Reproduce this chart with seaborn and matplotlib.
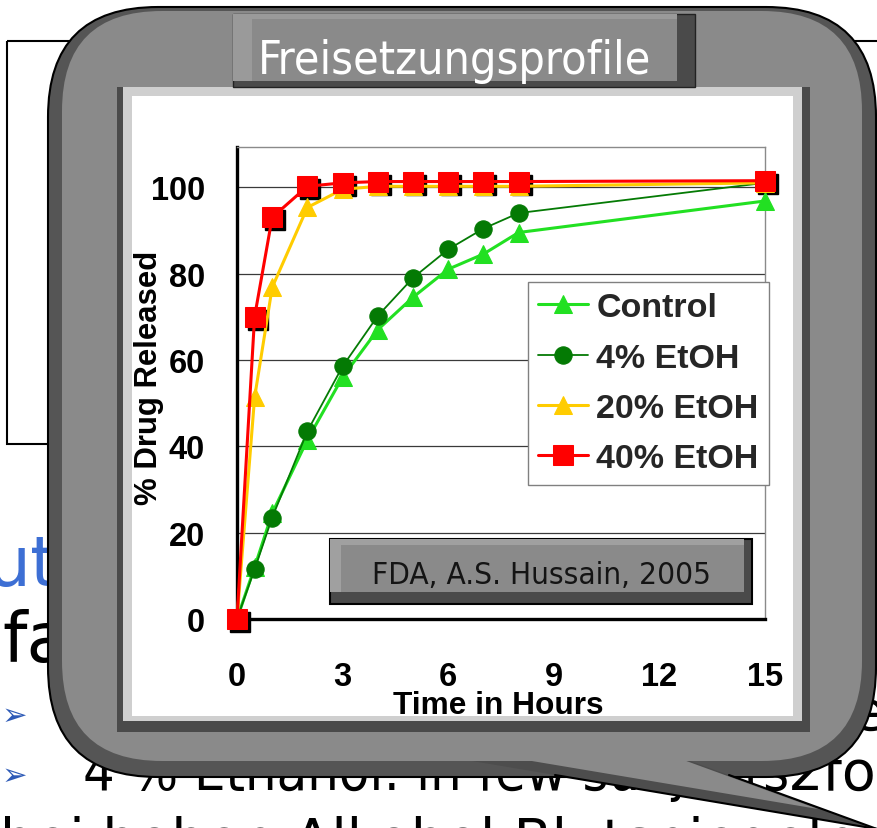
import matplotlib
matplotlib.use("Agg")
import matplotlib.pyplot as plt
import seaborn as sns
from matplotlib.patches import FancyBboxPatch, Rectangle, Polygon
from matplotlib.lines import Line2D
from matplotlib.transforms import ScaledTranslation

# ---------------- data ----------------
time_h = [0, 0.5, 1, 2, 3, 4, 5, 6, 7, 8, 15]
control = [0, 12, 24.5, 41.5, 56, 67, 74.5, 81, 84.5, 89.5, 96.8]
etoh4 = [0, 11.5, 23.5, 43.5, 58.5, 70.2, 79, 85.6, 90.4, 94, 101]
etoh20 = [0, 51.3, 76.8, 95.3, 99.5, 100.2, 100.2, 100.2, 100.2, 100.2, 101]
etoh40 = [0, 70, 93, 100.2, 101, 101.3, 101.3, 101.3, 101.3, 101.3, 101.5]
series_labels = ["Control", "4% EtOH", "20% EtOH", "40% EtOH"]
x_ticks = [0, 3, 6, 9, 12, 15]
y_ticks = [0, 20, 40, 60, 80, 100]
title_text = "Freisetzungsprofile"
source_text = "FDA, A.S. Hussain, 2005"
x_label = "Time in Hours"
y_label = "% Drug Released"

sns.set_theme(style="white")
plt.rcParams['font.family'] = ['Liberation Sans', 'DejaVu Sans']

W, H = 877, 829
fig = plt.figure(figsize=(W / 100, H / 100), dpi=100)
fig.patch.set_facecolor('white')

bg = fig.add_axes([0, 0, 1, 1], zorder=0)
bg.set_xlim(0, W)
bg.set_ylim(H, 0)
bg.axis('off')

# ---------------- slide text behind the callout ----------------
SL = ['DejaVu Sans']
bg.add_patch(Rectangle((7, 42), 900, 403, fc='none', ec='black', lw=1.5, zorder=1))
bg.text(-14, 586, "ut", color='#3d6fd4', fontsize=50, family=SL, zorder=1)
bg.text(2, 662, "fa", color='black', fontsize=50, family=SL, zorder=1)
bg.text(2, 716, "\u27a2", color='#2f5bb7', fontsize=22, family=SL, va='center', zorder=1)
bg.text(2, 776, "\u27a2", color='#2f5bb7', fontsize=22, family=SL, va='center', zorder=1)
bg.text(852, 730, "e", color='black', fontsize=40, family=SL, zorder=1)
t4 = bg.text(83, 790, "4 % Ethanol: in few subjects", color='black', fontsize=40,
             family=SL, stretch='condensed', zorder=1)
t4.set_clip_path(Rectangle((0, 0), 740, H, transform=bg.transData))
bg.text(788, 790, "2fold", color='black', fontsize=40, family=SL, zorder=1)
bg.text(0, 858, "bei hohen Alkohol-Blutspiegeln fast doppelt", color='black',
        fontsize=40, family=SL, zorder=1)

# ---------------- callout bubble ----------------
bg.add_patch(FancyBboxPatch((48, 8), 828, 770, boxstyle="round,pad=0,rounding_size=110",
                            fc='#555555', ec='black', lw=1.5, zorder=3))
bg.add_patch(Polygon([(341, 740), (877, 830), (630, 740)], closed=True,
                     fc='#4d4d4d', ec='none', zorder=3.5))
bg.add_line(Line2D([555, 877], [776, 830], color='black', lw=1.5, zorder=3.6))
bg.add_line(Line2D([729, 877], [776, 830], color='black', lw=1.5, zorder=3.6))
bg.add_patch(FancyBboxPatch((62, 12), 800, 750, boxstyle="round,pad=0,rounding_size=100",
                            fc='#8a8a8a', ec='none', zorder=4))
bg.add_patch(Polygon([(341, 730), (818, 810), (626, 740), (626, 730)], closed=True,
                     fc='#8a8a8a', ec='none', zorder=4.5))

# inner framed panel
bg.add_patch(Rectangle((117, 88), 693, 645, fc='#4a4a4a', ec='none', zorder=5))
bg.add_patch(Rectangle((123, 88), 679, 634, fc='#cfcfcf', ec='none', zorder=5.1))
bg.add_patch(Rectangle((132, 97), 661, 620, fc='white', ec='none', zorder=5.2))

# title box
bg.add_patch(Rectangle((233, 15), 462, 73, fc='#4a4a4a', ec='#222222', lw=1, zorder=6))
bg.add_patch(Rectangle((233, 15), 444, 67, fc='#9a9a9a', ec='none', zorder=6.1))
bg.add_patch(Rectangle((252, 20), 425, 62, fc='#8a8a8a', ec='none', zorder=6.2))
tt = bg.text(455, 74, title_text, color='white', fontsize=34, family=['DejaVu Sans'],
             stretch='condensed', ha='center', va='baseline', zorder=7)

# ---------------- chart ----------------
ax = fig.add_axes([237 / W, 1 - 620 / H, 528 / W, 472 / H], zorder=1)
ax.set_facecolor('none')
ax.set_xlim(0, 15)
ax.set_ylim(0, 109.3)

shadow = ax.transData + ScaledTranslation(3 / 100, -3 / 100, fig.dpi_scale_trans)
ax.plot(time_h, etoh40, linestyle='none', marker='s', markersize=14, color='black',
        transform=shadow, clip_on=False, zorder=2.9)

sns.lineplot(x=time_h, y=control, ax=ax, color='#22e022', marker='^', markersize=13,
             markeredgecolor='#22e022', linewidth=2.2, label=series_labels[0], clip_on=False, zorder=3)
sns.lineplot(x=time_h, y=etoh4, ax=ax, color='#047a04', marker='o', markersize=12.5,
             markeredgecolor='#047a04', linewidth=1.3, label=series_labels[1], clip_on=False, zorder=3.1)
sns.lineplot(x=time_h, y=etoh20, ax=ax, color='#ffcc00', marker='^', markersize=13,
             markeredgecolor='#ffcc00', linewidth=2.2, label=series_labels[2], clip_on=False, zorder=3.2)
sns.lineplot(x=time_h, y=etoh40, ax=ax, color='#ff0000', marker='s', markersize=14,
             markeredgecolor='#ff0000', linewidth=2.2, label=series_labels[3], clip_on=False, zorder=3.3)

ax.set_xticks(x_ticks)
ax.set_yticks(y_ticks)
ax.set_xticklabels([str(v) for v in x_ticks])
ax.set_yticklabels([str(v) for v in y_ticks])
ax.yaxis.grid(True, color='#3a3a3a', linewidth=0.9)
ax.xaxis.grid(False)
ax.set_axisbelow(True)
for s in ['left', 'bottom']:
    ax.spines[s].set_color('black')
    ax.spines[s].set_linewidth(2.4)
for s in ['top', 'right']:
    ax.spines[s].set_color('#8a8a8a')
    ax.spines[s].set_linewidth(1.0)
ax.tick_params(axis='both', which='major', direction='in', length=8, width=2, color='black',
               labelsize=23.5, labelcolor='black')
ax.tick_params(axis='x', pad=30)
ax.tick_params(axis='y', pad=23)
for lab in ax.get_xticklabels() + ax.get_yticklabels():
    lab.set_fontweight('bold')

ax.set_xlabel(x_label, fontsize=23, fontweight='bold', color='black')
ax.set_ylabel(y_label, fontsize=23, fontweight='bold', color='black')
ax.xaxis.set_label_coords(0.494, -0.151)
ax.yaxis.set_label_coords(-0.138, 0.514)

leg = ax.legend(loc='upper left', bbox_to_anchor=(528 / W, 1 - 283 / H),
                bbox_transform=fig.transFigure, borderaxespad=0,
                prop={'family': 'Liberation Sans', 'weight': 'bold', 'size': 24.5},
                frameon=True, fancybox=False, framealpha=1, edgecolor='#808080',
                facecolor='white', handlelength=1.47, handletextpad=0.24,
                labelspacing=0.57, borderpad=0.3)
leg.get_frame().set_linewidth(1.0)

# ---------------- source box overlay ----------------
ov = fig.add_axes([0, 0, 1, 1], zorder=2)
ov.set_xlim(0, W)
ov.set_ylim(H, 0)
ov.axis('off')
ov.patch.set_alpha(0)
ov.add_patch(Rectangle((330, 540), 422, 65, fc='#4a4a4a', ec='black', lw=1.5, zorder=1))
ov.add_patch(Rectangle((330, 540), 414, 53, fc='#a0a0a0', ec='none', zorder=1.1))
ov.add_patch(Rectangle((341, 546), 403, 47, fc='#8a8a8a', ec='none', zorder=1.2))
st = ov.text(542, 584, source_text, color='#141414', fontsize=26, family=['DejaVu Sans'],
             stretch='condensed', ha='center', va='baseline', zorder=2)

# fit text sizes to the reference extents
fig.canvas.draw()
r = fig.canvas.get_renderer()
for t, target in [(tt, 394), (st, 340), (ax.xaxis.label, 211)]:
    w = t.get_window_extent(r).width
    t.set_fontsize(t.get_fontsize() * target / w)
hgt = ax.yaxis.label.get_window_extent(r).height
ax.yaxis.label.set_fontsize(ax.yaxis.label.get_fontsize() * 255 / hgt)

fig.savefig("out.png", dpi=100, facecolor='white')
